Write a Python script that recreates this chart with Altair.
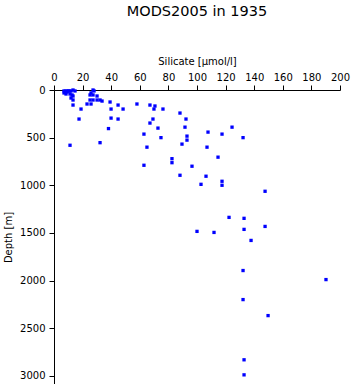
import altair as alt
import pandas as pd

silicate = [7.0, 7.7, 8.4, 9.1, 7.0, 8.4, 9.8, 10.5, 11.9, 13.3, 14.7, 11.2, 12.6, 13.3, 11.9,
            13.3, 13.3, 18.9, 17.5, 11.2,
            27.3, 28.0, 25.9, 25.2, 27.3, 30.1, 25.2, 27.3, 30.1, 32.2, 33.6, 23.1, 25.9,
            39.2, 39.9, 44.8, 48.3, 39.9, 44.8, 38.1, 32.2,
            58.0, 67.1, 70.6, 69.9, 76.2, 88.1, 69.2, 92.3, 67.1, 72.7, 91.6, 107.7, 124.5,
            62.9, 74.8, 93.0, 93.0, 117.5, 132.2, 65.0, 89.5, 107.0, 82.5, 82.5, 62.9, 96.5,
            114.7, 88.1, 106.3, 102.8, 117.5, 117.5, 147.6, 122.4, 132.9, 147.6, 100.0, 111.9,
            132.9, 137.8, 132.2, 190.2, 132.2, 149.7, 132.9, 132.9]
depth = [10, 21, 10, 21, 31, 42, 10, 10, 10, 0, 10, 42, 52, 63, 84,
         105, 158, 200, 305, 580,
         0, 10, 31, 52, 52, 63, 105, 105, 105, 105, 116, 147, 147,
         126, 200, 158, 200, 295, 305, 405, 553,
         147, 158, 168, 200, 200, 242, 305, 305, 347, 400, 390, 442, 390,
         463, 500, 484, 526, 463, 500, 600, 568, 600, 721, 763, 790, 800,
         705, 895, 905, 990, 958, 1000, 1063, 1337, 1347, 1432, 1484, 1495,
         1463, 1579, 1895, 1990, 2200, 2368, 2832, 2990]

x_ticks = [0, 20, 40, 60, 80, 100, 120, 140, 160, 180, 200]
y_ticks = [0, 500, 1000, 1500, 2000, 2500, 3000]

df = pd.DataFrame({"silicate": silicate, "depth": depth})

FONT = "DejaVu Sans"

chart = alt.Chart(df).mark_square(size=11, color="#0000FF", opacity=1, strokeWidth=0).encode(
    x=alt.X("silicate:Q",
            scale=alt.Scale(domain=[0, 200], nice=False, zero=False),
            axis=alt.Axis(orient="top", values=x_ticks, title="Silicate [µmol/l]", format="d",
                          grid=False, tickSize=5, labelPadding=3, titlePadding=6,
                          labelFlush=False, labelOverlap=False)),
    y=alt.Y("depth:Q",
            scale=alt.Scale(domain=[0, 3086], nice=False, zero=False, reverse=True),
            axis=alt.Axis(orient="left", values=y_ticks, title="Depth [m]", format="d",
                          grid=False, tickSize=5, labelPadding=4, titlePadding=6,
                          labelFlush=False, labelOverlap=False)),
).properties(
    width=286,
    height=294,
    title=alt.TitleParams("MODS2005 in 1935", fontSize=14.5, font=FONT, fontWeight="normal",
                          color="black", anchor="middle", offset=37),
    autosize=alt.AutoSizeParams(type="none"),
    padding={"left": 54, "top": 90, "right": 11, "bottom": 0},
).configure_view(
    stroke=None
).configure_axis(
    labelFont=FONT, labelFontSize=10, labelColor="black",
    titleFont=FONT, titleFontSize=10, titleFontWeight="normal", titleColor="black",
    domainColor="black", tickColor="black", domainWidth=1, tickWidth=1
)

chart.save("out.html", embed_options={"renderer": "svg", "actions": False})
